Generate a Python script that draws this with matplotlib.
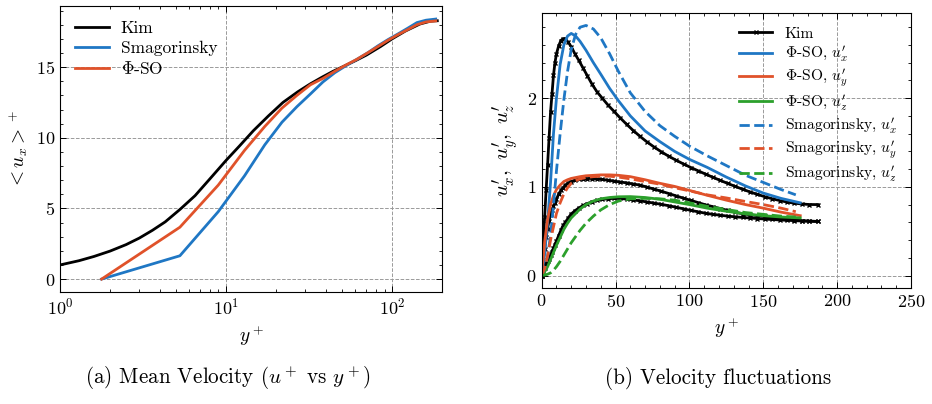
import matplotlib

matplotlib.use('Agg')
import matplotlib.pyplot as plt
from matplotlib.ticker import MultipleLocator

plt.rcParams['font.family'] = 'serif'
plt.rcParams['font.serif'] = ['cmr10']
plt.rcParams['mathtext.fontset'] = 'cm'
plt.rcParams['axes.formatter.use_mathtext'] = True
plt.rcParams['axes.unicode_minus'] = False

BLUE = '#1f77c4'
RED = '#e0522a'
GREEN = '#2ca02c'

# ---- (a) mean velocity ----
kim_yp = [1.0, 1.3, 1.6, 2.0, 2.5, 3.0, 3.6, 4.3, 5.3, 6.5, 8.0, 10, 12, 14.6, 18, 22, 27, 32,
          38, 44, 52, 60, 70, 85, 100, 120, 147, 170, 187]
kim_u = [1.0, 1.3, 1.6, 1.98, 2.44, 2.9, 3.45, 4.05, 4.95, 5.9, 7.1, 8.4, 9.4, 10.5, 11.55, 12.5,
         13.25, 13.8, 14.3, 14.7, 15.1, 15.45, 15.85, 16.45, 17.0, 17.55, 18.05, 18.25, 18.28]

les_yp = [1.78, 5.27, 8.97, 12.9, 17.1, 21.7, 26.7, 32.2, 38.3, 45.1, 52.7, 61.3, 71, 82, 94.5,
          108.5, 124, 141, 160, 183]
smag_u = [0, 1.65, 4.77, 7.3, 9.5, 11.1, 12.2, 13.1, 13.95, 14.6, 15.1, 15.55, 16.0, 16.5, 16.95,
          17.35, 17.75, 18.15, 18.32, 18.4]
phiso_u = [0, 3.67, 6.65, 9.1, 10.8, 12.1, 13.0, 13.75, 14.2, 14.7, 15.15, 15.55, 16.0, 16.45,
           16.9, 17.3, 17.65, 18.0, 18.2, 18.27]

# ---- (b) velocity fluctuations ----
kim_y = [0, 1, 2, 3, 4, 5, 6, 7, 8, 9, 10, 11.5, 13, 14.5, 16, 18, 20, 22.5, 25, 28, 31, 34, 37.5,
         41, 45, 49, 53, 57.5, 62, 66.5, 71, 76, 81, 86, 91, 96, 101, 106, 111, 116, 121, 126,
         131, 136, 141, 146, 151, 156, 161, 166, 171, 176, 181, 187]
kim_ux = [0, 0.34, 0.66, 0.96, 1.25, 1.55, 1.84, 2.05, 2.26, 2.40, 2.50, 2.59, 2.65, 2.67, 2.67,
          2.63, 2.58, 2.50, 2.43, 2.34, 2.25, 2.16, 2.07, 2.00, 1.92, 1.85, 1.78, 1.705, 1.635,
          1.57, 1.51, 1.45, 1.395, 1.345, 1.30, 1.258, 1.218, 1.18, 1.143, 1.107, 1.072, 1.038,
          1.005, 0.973, 0.943, 0.915, 0.889, 0.866, 0.846, 0.829, 0.816, 0.807, 0.801, 0.80]
kim_uy = [0, 0.14, 0.30, 0.43, 0.53, 0.62, 0.69, 0.74, 0.78, 0.82, 0.86, 0.92, 0.96, 0.99, 1.02,
          1.045, 1.06, 1.075, 1.085, 1.09, 1.094, 1.094, 1.09, 1.083, 1.075, 1.065, 1.055, 1.045,
          1.032, 1.02, 0.998, 0.975, 0.95, 0.925, 0.898, 0.872, 0.847, 0.822, 0.797, 0.776,
          0.755, 0.734, 0.714, 0.697, 0.685, 0.675, 0.666, 0.657, 0.648, 0.638, 0.627, 0.619,
          0.614, 0.61]
kim_uz = [0, 0.05, 0.09, 0.13, 0.16, 0.19, 0.23, 0.27, 0.31, 0.35, 0.39, 0.45, 0.51, 0.565, 0.60,
          0.65, 0.695, 0.73, 0.76, 0.79, 0.812, 0.83, 0.848, 0.86, 0.866, 0.87, 0.869, 0.862,
          0.852, 0.843, 0.83, 0.817, 0.803, 0.787, 0.77, 0.752, 0.735, 0.718, 0.702, 0.69, 0.68,
          0.67, 0.662, 0.655, 0.649, 0.643, 0.637, 0.632, 0.627, 0.623, 0.619, 0.615, 0.612, 0.61]

phiso_y = [0, 2, 4, 6, 8, 10, 12.5, 15, 17.5, 20, 23, 26, 30, 35, 40, 46, 52, 60, 70, 80, 90, 100,
           112, 125, 138, 150, 162, 175]
phiso_ux = [0, 0.25, 0.6, 1.05, 1.6, 2.0, 2.38, 2.6, 2.7, 2.73, 2.70, 2.64, 2.54, 2.40, 2.27,
            2.11, 1.97, 1.80, 1.63, 1.51, 1.40, 1.31, 1.22, 1.11, 1.01, 0.93, 0.87, 0.82]
phiso_uy = [0, 0.38, 0.63, 0.80, 0.90, 0.97, 1.02, 1.06, 1.08, 1.095, 1.105, 1.115, 1.125, 1.13,
            1.135, 1.135, 1.13, 1.115, 1.08, 1.04, 1.005, 0.96, 0.905, 0.85, 0.80, 0.76, 0.715,
            0.675]
phiso_uz = [0, 0.04, 0.10, 0.18, 0.26, 0.34, 0.43, 0.52, 0.59, 0.65, 0.70, 0.75, 0.80, 0.84, 0.865,
            0.88, 0.888, 0.89, 0.88, 0.86, 0.83, 0.80, 0.76, 0.725, 0.695, 0.675, 0.66, 0.65]

smag_y = [0, 2, 4, 6, 8, 10, 12.5, 15, 17.5, 20, 23, 26, 30, 35, 40, 46, 52, 60, 70, 80, 90, 100,
          112, 125, 138, 150, 162, 172]
smag_ux = [0, 0.08, 0.22, 0.45, 0.8, 1.18, 1.6, 1.98, 2.3, 2.55, 2.72, 2.80, 2.82, 2.78, 2.68,
           2.50, 2.30, 2.06, 1.85, 1.69, 1.57, 1.46, 1.35, 1.24, 1.13, 1.05, 0.97, 0.91]
smag_uy = [0, 0.08, 0.22, 0.40, 0.55, 0.70, 0.82, 0.92, 0.99, 1.04, 1.07, 1.09, 1.105, 1.115, 1.12,
           1.12, 1.11, 1.09, 1.06, 1.03, 0.99, 0.955, 0.91, 0.875, 0.835, 0.80, 0.76, 0.72]
smag_uz = [0, 0.005, 0.015, 0.03, 0.06, 0.10, 0.16, 0.23, 0.30, 0.37, 0.44, 0.51, 0.59, 0.67, 0.74,
           0.80, 0.84, 0.865, 0.87, 0.865, 0.85, 0.82, 0.78, 0.745, 0.71, 0.69, 0.67, 0.66]

fig = plt.figure(figsize=(9.32, 4.04), dpi=100)
ax1 = fig.add_axes([0.0644, 0.277, 0.41, 0.708])
ax2 = fig.add_axes([0.5812, 0.287, 0.3963, 0.681])

for ax in (ax1, ax2):
    ax.grid(True, which='major', linestyle='--', color='#9a9a9a', linewidth=0.7)
    ax.set_axisbelow(True)
    ax.tick_params(which='both', direction='in', top=True, right=True, labelsize=13)
    ax.tick_params(which='major', length=4, width=0.7)
    ax.tick_params(which='minor', length=2, width=0.6)

# left
ax1.plot(kim_yp, kim_u, color='black', lw=2, label='Kim')
ax1.plot(les_yp, smag_u, color=BLUE, lw=2, label='Smagorinsky')
ax1.plot(les_yp, phiso_u, color=RED, lw=2, label=r'$\Phi$-SO')
ax1.set_xscale('log')
ax1.set_xlim(1, 200)
ax1.yaxis.set_major_locator(MultipleLocator(5))
ax1.yaxis.set_minor_locator(MultipleLocator(1))
ax1.set_xlabel(r'$y^+$', fontsize=14)
ax1.set_ylabel(r'$<u_x>^+$', fontsize=14)
ax1.legend(loc='upper left', frameon=False, fontsize=12.5, handlelength=2.0,
           handletextpad=0.65, labelspacing=0.25, borderaxespad=0.45)

# right
ax2.plot(kim_y, kim_ux, color='black', lw=2, marker='x', ms=3.5, mew=1, label='Kim')
ax2.plot(kim_y, kim_uy, color='black', lw=2, marker='x', ms=3.5, mew=1)
ax2.plot(kim_y, kim_uz, color='black', lw=2, marker='x', ms=3.5, mew=1)
ax2.plot(phiso_y, phiso_ux, color=BLUE, lw=2, label=r"$\Phi$-SO, $u_x^{\prime}$")
ax2.plot(phiso_y, phiso_uy, color=RED, lw=2, label=r"$\Phi$-SO, $u_y^{\prime}$")
ax2.plot(phiso_y, phiso_uz, color=GREEN, lw=2, label=r"$\Phi$-SO, $u_z^{\prime}$")
ax2.plot(smag_y, smag_ux, color=BLUE, lw=2, ls='--', label=r"Smagorinsky, $u_x^{\prime}$")
ax2.plot(smag_y, smag_uy, color=RED, lw=2, ls='--', label=r"Smagorinsky, $u_y^{\prime}$")
ax2.plot(smag_y, smag_uz, color=GREEN, lw=2, ls='--', label=r"Smagorinsky, $u_z^{\prime}$")
ax2.set_xlim(0, 250)
ax2.xaxis.set_major_locator(MultipleLocator(50))
ax2.xaxis.set_minor_locator(MultipleLocator(10))
ax2.yaxis.set_major_locator(MultipleLocator(1))
ax2.yaxis.set_minor_locator(MultipleLocator(0.2))
ax2.set_xlabel(r'$y^+$', fontsize=14)
ax2.set_ylabel(r"$u_x^{\prime},\ u_y^{\prime},\ u_z^{\prime}$", fontsize=15)
ax2.legend(loc='upper right', frameon=False, fontsize=11.2, handlelength=2.1,
           labelspacing=0.2, borderaxespad=0.5)

fig.text(0.245, 0.05, r'(a) Mean Velocity ($u^+$ vs $y^+$)', ha='center', fontsize=15.2)
fig.text(0.77, 0.05, '(b) Velocity fluctuations', ha='center', fontsize=15.2)

fig.savefig('out.png', dpi=100)
